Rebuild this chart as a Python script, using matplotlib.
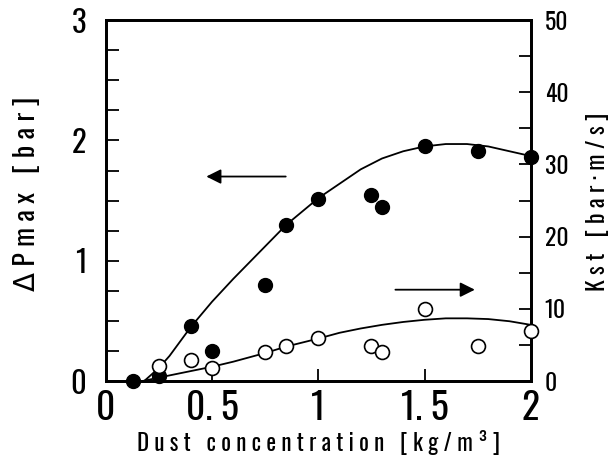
import matplotlib
matplotlib.use("Agg")
import matplotlib.pyplot as plt

plt.rcParams['font.family'] = ['Oswald', 'DejaVu Sans']

# measured points
conc_p = [0.13, 0.25, 0.40, 0.50, 0.75, 0.85, 1.00, 1.25, 1.30, 1.50, 1.75, 2.00]
dpmax = [0.00, 0.04, 0.46, 0.25, 0.80, 1.30, 1.51, 1.55, 1.45, 1.95, 1.91, 1.86]

conc_k = [0.25, 0.40, 0.50, 0.75, 0.85, 1.00, 1.25, 1.30, 1.50, 1.75, 2.00]
kst = [2.1, 2.9, 1.8, 4.0, 4.9, 6.0, 4.9, 4.0, 10.0, 4.9, 7.0]

# fitted curves
fit_p_x = [0.18, 0.25, 0.30, 0.40, 0.50, 0.60, 0.70, 0.85, 1.00, 1.10, 1.20,
           1.30, 1.40, 1.50, 1.60, 1.70, 1.80, 1.90, 2.00]
fit_p_y = [0.00, 0.11, 0.21, 0.45, 0.66, 0.85, 1.03, 1.30, 1.52, 1.64, 1.76,
           1.85, 1.91, 1.95, 1.97, 1.97, 1.95, 1.91, 1.87]

fit_k_x = [0.17, 0.25, 0.40, 0.50, 0.60, 0.75, 0.85, 1.00, 1.10, 1.20, 1.30,
           1.40, 1.50, 1.60, 1.70, 1.80, 1.90, 2.00]
fit_k_y = [0.0, 0.5, 1.4, 2.0, 2.7, 3.9, 4.8, 5.9, 6.7, 7.3, 7.8,
           8.2, 8.5, 8.7, 8.7, 8.6, 8.3, 7.8]

x_ticks = [0, 0.5, 1, 1.5, 2]
x_labels = ["0", "0. 5", "1", "1. 5", "2"]
left_ticks = [0, 1, 2, 3]
right_ticks = [0, 10, 20, 30, 40, 50]

fig = plt.figure(figsize=(6.15, 4.66), dpi=100)
ax = fig.add_axes([0.172, 0.182, 0.691, 0.775])
ax2 = ax.twinx()

ax.plot(fit_p_x, fit_p_y, color="black", lw=1.3)
ax.plot(conc_p, dpmax, "o", color="black", ms=10, clip_on=False, zorder=5)

ax2.plot(fit_k_x, fit_k_y, color="black", lw=1.3)
ax2.plot(conc_k, kst, "o", mfc="white", mec="black", mew=1.2, ms=10,
         clip_on=False, zorder=5)

ax.set_xlim(0, 2)
ax.set_ylim(0, 3)
ax2.set_ylim(0, 50)

ax.set_xticks(x_ticks)
ax.set_xticklabels(x_labels, fontsize=27)
ax.set_yticks(left_ticks)
ax.set_yticklabels([str(t) for t in left_ticks], fontsize=22)
ax.set_yticks([i * 0.25 for i in range(13)], minor=True)
ax2.set_yticks(right_ticks)
ax2.set_yticklabels([str(t) for t in right_ticks], fontsize=17)
ax2.set_yticks(list(range(0, 51, 5)), minor=True)

ax.tick_params(axis="x", direction="in", length=9, width=1.3, pad=6)
ax.tick_params(axis="y", which="both", direction="in", length=9, width=1.3, pad=14)
ax2.tick_params(axis="y", which="both", direction="in", length=9, width=1.3, pad=10)

for a in (ax, ax2):
    for s in a.spines.values():
        s.set_linewidth(2)

ax.set_xlabel("D u s t   c o n c e n t r a t i o n   [ k g / m ³ ]",
              fontsize=16.5)
ax.xaxis.set_label_coords(0.5, -0.135)
ax.set_ylabel("Δ P m a x   [ b a r ]", fontsize=20)
ax.yaxis.set_label_coords(-0.155, 0.52)
ax2.set_ylabel("K s t   [ b a r · m / s ]", fontsize=17)
ax2.yaxis.set_label_coords(1.13, 0.496)

ax.annotate("", xy=(0.46, 1.7), xytext=(0.86, 1.7),
            arrowprops=dict(arrowstyle="-|>", color="black", lw=1.3,
                            mutation_scale=22))
ax.annotate("", xy=(1.75, 0.76), xytext=(1.35, 0.76),
            arrowprops=dict(arrowstyle="-|>", color="black", lw=1.3,
                            mutation_scale=22))

fig.savefig("out.png", dpi=100)
plt.close(fig)
